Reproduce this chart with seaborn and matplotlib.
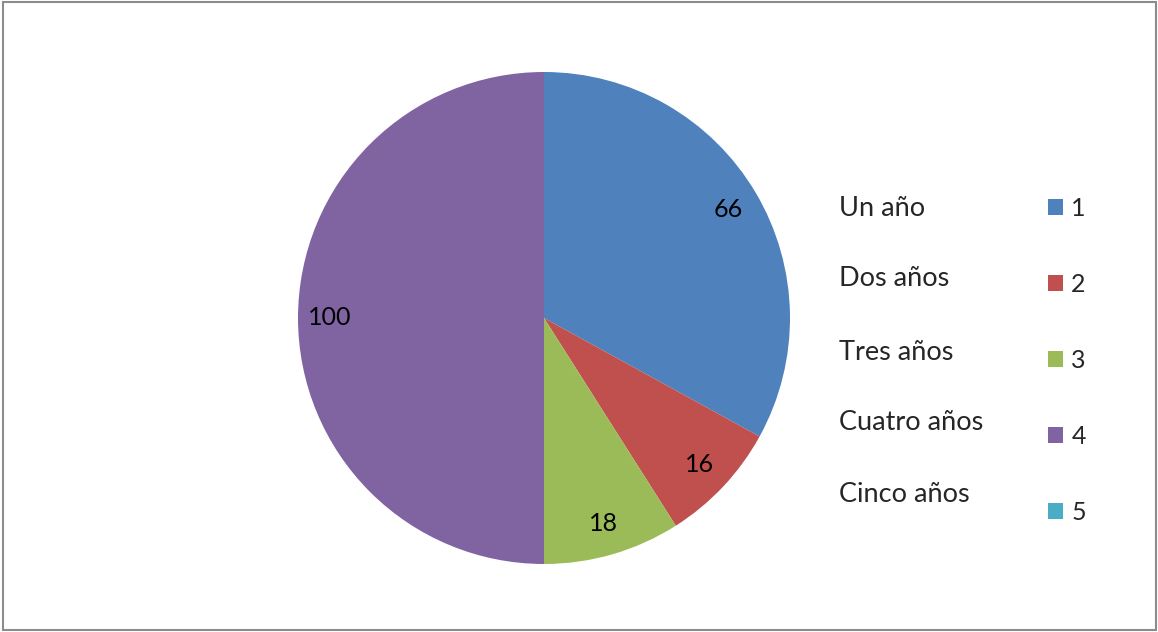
import matplotlib
matplotlib.use("Agg")
import matplotlib.pyplot as plt
import seaborn as sns
from matplotlib.patches import Patch, Rectangle

categories = ["Un año", "Dos años", "Tres años", "Cuatro años", "Cinco años"]
legend_labels = ["1", "2", "3", "4", "5"]
values = [66, 16, 18, 100, 0]
colors = ["#4F81BD", "#C0504D", "#9BBB59", "#8064A2", "#4BACC6"]

sns.set_theme(style="white")
plt.rcParams["font.family"] = ["Lato", "DejaVu Sans"]

W, H = 1158, 632
fig = plt.figure(figsize=(W / 100, H / 100), dpi=100)
cx, cy, r = 544, 318, 246
ax = fig.add_axes([(cx - r) / W, (H - cy - r) / H, 2 * r / W, 2 * r / H])

labels = [str(v) if v > 0 else "" for v in values]
wedges, texts = ax.pie(values, labels=labels, colors=sns.color_palette(colors),
                       startangle=90, counterclock=False, labeldistance=0.87,
                       wedgeprops=dict(linewidth=0),
                       textprops=dict(fontsize=18, color="black", ha="center", va="center"))
for t in texts:
    t.set_horizontalalignment("center")
    t.set_verticalalignment("center")
ax.set_xlim(-1, 1)
ax.set_ylim(-1, 1)
ax.set_aspect("equal")
ax.axis("off")

# category text column
ys = [209, 279, 352, 423, 495]
for name, y in zip(categories, ys):
    fig.text(839 / W, 1 - y / H, name, fontsize=19.5, ha="left", va="center")

handles = [Patch(facecolor=c, edgecolor="none") for c in colors]
fig.legend(handles, legend_labels, loc="upper left",
           bbox_to_anchor=(1035 / W, 1 - 184 / H), frameon=False,
           fontsize=18, handlelength=0.6, handleheight=0.6,
           handletextpad=0.35, labelspacing=2.12, borderpad=0)

fig.patches.append(Rectangle((3 / W, 2 / H), (1156 - 3) / W, (630 - 2) / H,
                             transform=fig.transFigure, fill=False,
                             edgecolor="#8c8c8c", linewidth=1.5))

fig.savefig("out.png", dpi=100)
